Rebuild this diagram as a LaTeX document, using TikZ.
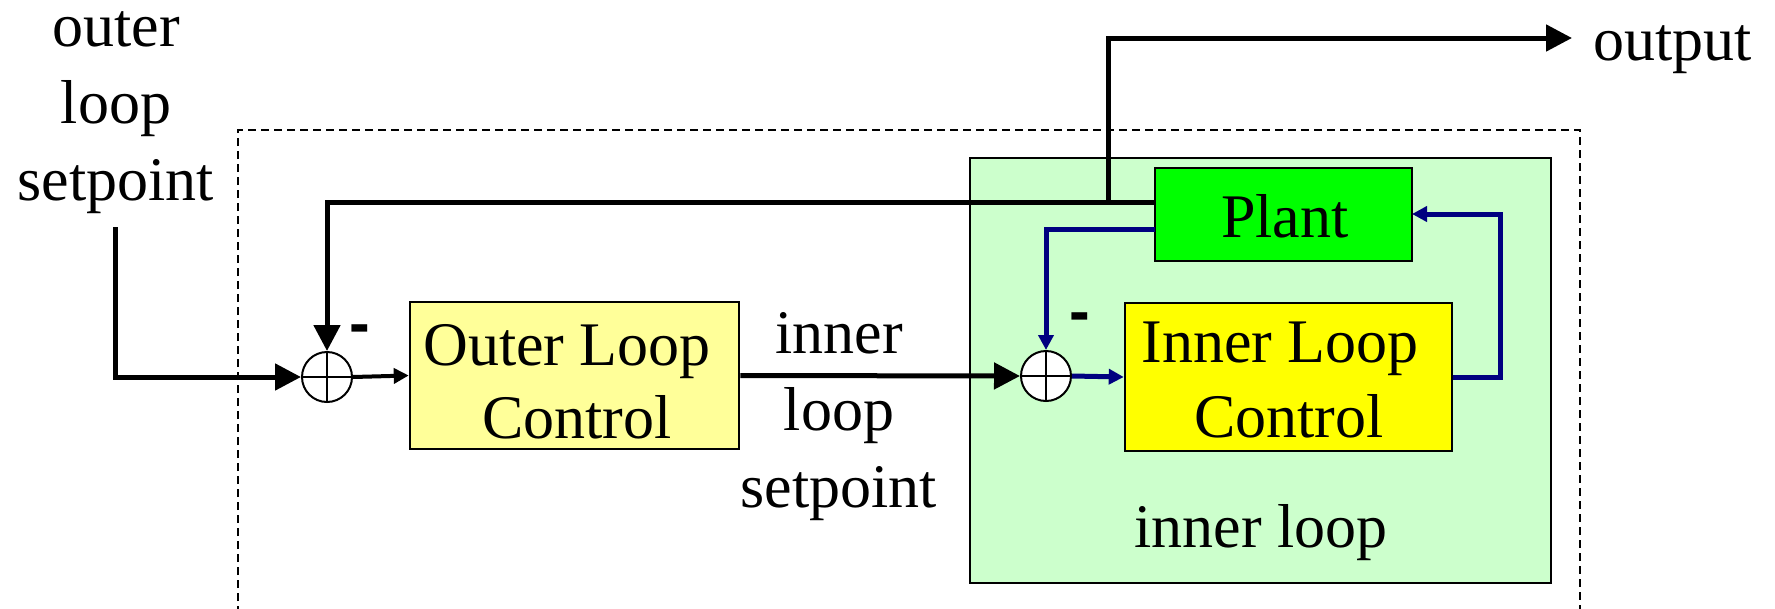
\documentclass[tikz,border=0pt]{standalone}
\usepackage{fontspec}
\setmainfont{Liberation Serif}
\newfontfamily\signfont{Liberation Sans}
\usetikzlibrary{arrows.meta}
\definecolor{olcfill}{RGB}{255,255,153}
\definecolor{ilcfill}{RGB}{255,255,0}
\definecolor{plantfill}{RGB}{0,255,0}
\definecolor{loopfill}{RGB}{204,255,204}
\definecolor{navyline}{RGB}{0,0,128}
\begin{document}
\begin{tikzpicture}[x=1pt,y=-1pt,
  blk/.style={draw=black, line width=2.5pt, inner sep=0pt, rectangle},
  txt/.style={inner sep=0pt, anchor=base, font=\fontsize{62}{74}\selectfont},
  sgn/.style={inner sep=0pt, font=\fontsize{62}{74}\signfont\bfseries},
  sumnode/.style={draw, circle, line width=2pt, fill=white, minimum size=50pt, inner sep=0pt,
    path picture={\draw[line width=2pt] (path picture bounding box.north) -- (path picture bounding box.south)
      (path picture bounding box.west) -- (path picture bounding box.east);}},
  sig/.style={line width=5pt},
  bigtip/.style={-{Triangle[length=26pt,width=26pt]}},
  smalltip/.style={-{Triangle[length=15pt,width=15pt]}},
  frame/.style={line width=2pt, dash pattern=on 8pt off 5pt}
]
\path[use as bounding box] (0,0) rectangle (1775,608);
\clip (0,0) rectangle (1775,608);

% dashed outer frame
\draw[frame] (238,640) -- (238,130) -- (1580,130) -- (1580,640);

% inner loop region
\node[blk, fill=loopfill, minimum width=581pt, minimum height=425pt] (inner) at (1260.5,370.5) {};

% blocks
\node[blk, fill=olcfill, minimum width=329pt, minimum height=147pt] (olc) at (574.5,375.5) {};
\node[blk, fill=ilcfill, minimum width=327pt, minimum height=148pt] (ilc) at (1288.5,377) {};
\node[blk, fill=plantfill, minimum width=257pt, minimum height=93pt] (plant) at (1283.5,214.5) {};

% summing junctions
\node[sumnode] (s1) at (327,377) {};
\node[sumnode] (s2) at (1046,376) {};

% texts
\node[txt] (t1) at (116,46) {outer};
\node[txt] (t2) at (116,123) {loop};
\node[txt] (t3) at (116,200) {setpoint};
\node[txt] (olc1) at (567,365) {Outer Loop};
\node[txt] (olc2) at (577,438) {Control};
\node[txt] (ils1) at (839,353) {inner};
\node[txt] (ils2) at (839,430) {loop};
\node[txt] (ils3) at (839,507) {setpoint};
\node[txt] (ilc1) at (1280,362) {Inner Loop};
\node[txt] (ilc2) at (1289,437) {Control};
\node[txt] (plt) at (1285,237) {Plant};
\node[txt] (ilp) at (1261,547) {inner loop};
\node[txt, anchor=base west] (outt) at (1593,60) {output};
\node[sgn] (m1) at (360,335) {-};
\node[sgn] (m2) at (1080,323) {-};

% coordinates for free ends / taps
\coordinate (spin) at (115,227);
\coordinate (pfb) at (1155,202);
\coordinate (tap) at (1108,202);
\coordinate (outp) at (1572,38);
\coordinate (pblue) at (1155,229);
\coordinate (rblue) at (1500,377);
\coordinate (pright) at (1412,214);

% black signals
\draw[sig, bigtip] (spin) |- (s1.west);
\draw[sig, bigtip] (pfb) -| (s1.north);
\draw[sig, bigtip] (tap) |- (outp);
\draw[sig, bigtip] (olc.east) -- (s2.west);
\draw[line width=4pt, smalltip] (s1.east) -- (olc.west);

% blue signals
\draw[line width=5pt, color=navyline, smalltip] (pblue) -| (s2.north);
\draw[line width=5pt, color=navyline, smalltip] (s2.east) -- (ilc.west);
\draw[line width=5pt, color=navyline, smalltip] (ilc.east) -- (rblue) |- (pright);
\end{tikzpicture}
\end{document}
